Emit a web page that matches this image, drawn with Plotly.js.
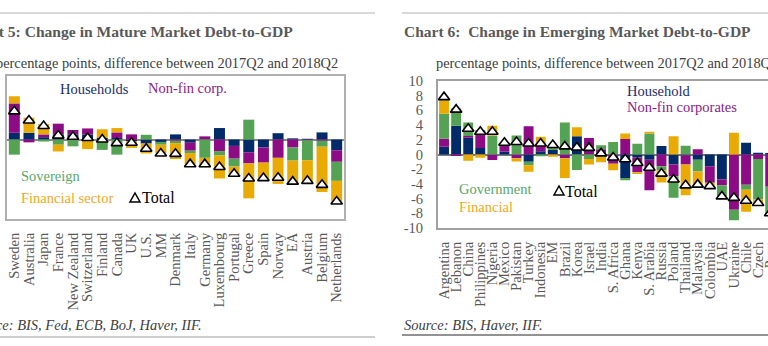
<!DOCTYPE html>
<html>
<head>
<meta charset="utf-8">
<script src="https://cdn.plot.ly/plotly-3.0.1.min.js"></script>
<style>
html,body{margin:0;padding:0;overflow:hidden;background:#fff;width:768px;height:346px;}
#chart{width:810px;height:346px;}
</style>
</head>
<body>
<div id="chart"></div>
<script>
// ---------- Chart 5: Mature markets ----------
const mmCats = ['Sweden','Australia','Japan','France','New Zealand','Switzerland','Finland','Canada','UK','U.S.','MM','Denmark','Italy','Germany','Luxembourg','Portugal','Greece','Spain','Norway','EA','Austria','Belgium','Netherlands'];
const mmHouseholds = [0.85, 0.85, 0.3, 0.65, 0.65, 0.65, 0.2, 0.2, -0.2, -0.5, -0.3, 0.65, -0.4, 0, 1.45, -0.8, -1.6, -1.0, 0.8, 0.15, 0.1, 0.9, -1.35];
const mmNonFin    = [3.7, -0.35, 0.35, 1.35, 0.55, 0.75, 0, 0.7, 0.65, 0, 0, -0.15, -1.0, 0.4, -1.45, -1.6, -1.4, -1.9, -2.3, -1.0, -0.1, -0.15, -1.45];
const mmSovereign = [-1.9, 0, -0.25, -0.65, -0.85, 0, -1.3, -1.9, 0, 0.6, -0.35, -0.3, -0.3, -2.3, -0.55, -1.0, 2.5, 0, 0, -1.65, -2.5, -0.75, -2.4];
const mmFinancial = [0.9, 1.9, 1.3, -0.85, 0, -1.2, 1.1, 0.55, -0.85, -1.25, -1.1, -2.0, -1.4, -1.2, -2.9, -0.9, -4.4, -1.95, -3.3, -2.8, -2.7, -5.7, -2.6];
const mmTotal     = [3.55, 2.4, 1.7, 0.5, 0.35, 0.2, 0.0, -0.45, -0.4, -1.15, -1.75, -1.8, -3.1, -3.1, -3.45, -4.3, -4.9, -4.85, -4.8, -5.3, -5.2, -5.7, -7.8];

// ---------- Chart 6: Emerging markets ----------
const emCats = ['Argentina','Lebanon','China','Philippines','Nigeria','Mexico','Pakistan','Turkey','Indonesia','EM','Brazil','Korea','Israel','India','S. Africa','Ghana','Kenya','S. Arabia','Russia','Poland','Thailand','Malaysia','Colombia','UAE','Ukraine','Chile','Czech','Peru'];
const emHousehold  = [1.05, 3.9, 2.27, 0.9, 0, 0.4, 0, -1.0, 0.45, 0.6, 0, 2.5, 0, 0.2, 0, -3.2, -0.4, -0.7, 1.15, -1.35, -0.1, -0.7, -1.6, -3.4, 0, 1.6, 0.25, 0.2];
const emNonFin     = [1.1, -0.2, 0.25, 2.3, -0.75, 1.2, -0.5, 3.85, 0.9, 0, -0.5, 0, 2.25, 0.5, -1.25, 2.1, -2.0, -4.15, -1.6, -1.6, -1.25, 0.7, -2.25, -0.8, -7.5, -4.1, -0.6, -4.4];
const emGovernment = [3.4, 2.35, 1.85, 0.15, 2.55, 0, 2.6, -0.45, -0.25, 0.55, 4.35, -2.1, -0.6, 0.55, 1.7, -0.3, 1.45, 2.85, -0.55, -2.95, 1.2, -1.6, 0, -1.5, -1.45, -0.7, -5.5, -3.9];
const emFinancial  = [2.3, 0, -0.85, -0.45, 1.35, 0, -0.45, -0.9, 1.05, -0.3, -2.7, 1.2, -0.75, -1.05, -0.9, 0.75, -0.25, 0.25, -1.65, 2.5, -4.2, -2.2, -0.45, 0, 2.95, -3.0, -0.9, 0];
const emTotal      = [7.8, 6.1, 3.5, 3.1, 3.1, 1.6, 1.7, 1.5, 1.5, 1.3, 1.1, 0.95, 0.9, 0.15, -0.4, -0.65, -1.15, -1.8, -2.6, -3.4, -4.2, -4.1, -4.3, -5.7, -5.9, -6.3, -6.6, -8.0];

const yTicks = [-10,-8,-6,-4,-2,0,2,4,6,8,10];

const W = 810, H = 346;
const X = p => p / W;
const Y = p => 1 - p / H;

const C = {hh:'#002a68', nfc:'#8e0b86', gov:'#54a254', fin:'#e9aa04'};
const serif = 'Liberation Serif, Times New Roman, serif';

function bars(cats, vals, color, xa, ya, w) {
  return {type:'bar', x:cats, y:vals, xaxis:xa, yaxis:ya, width:w,
    marker:{color:color, line:{width:0}}, hoverinfo:'skip', showlegend:false};
}
function tot(cats, vals, xa, ya) {
  return {type:'scatter', mode:'markers', x:cats, y:vals, xaxis:xa, yaxis:ya,
    marker:{symbol:'triangle-up', size:10, color:'#ffffff', line:{color:'#000', width:1.6}},
    hoverinfo:'skip', showlegend:false, cliponaxis:false};
}

const data = [
  bars(mmCats, mmHouseholds, C.hh, 'x', 'y', 0.75),
  bars(mmCats, mmNonFin, C.nfc, 'x', 'y', 0.75),
  bars(mmCats, mmSovereign, C.gov, 'x', 'y', 0.75),
  bars(mmCats, mmFinancial, C.fin, 'x', 'y', 0.75),
  tot(mmCats, mmTotal, 'x', 'y'),
  bars(emCats, emHousehold, C.hh, 'x2', 'y2', 0.82),
  bars(emCats, emNonFin, C.nfc, 'x2', 'y2', 0.82),
  bars(emCats, emGovernment, C.gov, 'x2', 'y2', 0.82),
  bars(emCats, emFinancial, C.fin, 'x2', 'y2', 0.82),
  tot(emCats, emTotal, 'x2', 'y2')
];

function ann(text, x, y, color, size, anchor, extra) {
  return Object.assign({text:text, x:X(x), y:Y(y), xref:'paper', yref:'paper',
    xanchor:anchor||'left', yanchor:'middle', showarrow:false,
    font:{family:serif, size:size, color:color}}, extra||{});
}
function tri(cx, cy) {
  const p = (x,y) => X(x).toFixed(5) + ',' + Y(y).toFixed(5);
  return {type:'path', xref:'paper', yref:'paper',
    path:'M' + p(cx-5, cy+4) + ' L' + p(cx+5, cy+4) + ' L' + p(cx, cy-5) + ' Z',
    fillcolor:'#fff', line:{color:'#000', width:1.5}};
}
function hline(x0, x1, y, color, w) {
  return {type:'line', xref:'paper', yref:'paper', x0:X(x0), x1:X(x1), y0:Y(y), y1:Y(y),
    line:{color:color, width:w}};
}

const tickFont = {family:serif, size:14.5, color:'#595959'};

const layout = {
  width:W, height:H,
  margin:{l:0, r:0, t:0, b:0, pad:0},
  paper_bgcolor:'#fff', plot_bgcolor:'#fff',
  barmode:'relative',
  showlegend:false,
  xaxis:{domain:[X(7), X(344)], type:'category', range:[-0.5, 22.5], tickangle:-90,
    tickmode:'array', tickvals:mmCats, ticktext:mmCats,
    tickfont:tickFont, ticks:'', ticklabelstandoff:6,
    showline:true, mirror:true, linecolor:'#b0b0b0', linewidth:2, showgrid:false, zeroline:false, fixedrange:true},
  yaxis:{domain:[Y(219), Y(76)], range:[-10, 8], showticklabels:false, ticks:'', layer:'above traces',
    showline:true, mirror:true, linecolor:'#b0b0b0', linewidth:2, showgrid:false,
    zeroline:true, zerolinecolor:'#8a8a8a', zerolinewidth:2, fixedrange:true},
  xaxis2:{domain:[X(438), X(800.4)], type:'category', range:[-0.5, 29.5], tickangle:-90,
    tickmode:'array', tickvals:emCats, ticktext:emCats,
    tickfont:tickFont, ticks:'', ticklabelstandoff:6, anchor:'y2',
    showline:true, mirror:true, linecolor:'#a0a0a0', linewidth:2, showgrid:false, zeroline:false, fixedrange:true},
  yaxis2:{domain:[Y(228), Y(81)], range:[-10, 10], tickvals:yTicks, ticktext:yTicks.map(String), anchor:'x2',
    tickfont:{family:serif, size:14.5, color:'#595959'}, ticks:'', ticklabelstandoff:10, layer:'above traces',
    showline:true, mirror:true, linecolor:'#a0a0a0', linewidth:2, showgrid:false,
    zeroline:true, zerolinecolor:'#7a7a7a', zerolinewidth:2, fixedrange:true},
  shapes:[
    hline(0, 375, 13, '#d9d9d9', 2),
    hline(402, 800, 13, '#d9d9d9', 2),
    hline(0, 375, 337, '#bfbfbf', 1.5),
    hline(402, 800, 335, '#6e6e6e', 1.5),
    tri(135, 198),
    tri(559, 191)
  ],
  annotations:[
    ann('<b>Chart 5: Change in Mature Market Debt-to-GDP</b>', 295, 32, '#595959', 15.6, 'right'),
    ann('percentage points, difference between 2017Q2 and 2018Q2', 340, 63, '#404040', 14.4, 'right'),
    ann('Households', 58, 89, '#1c2e6b', 14.5),
    ann('Non-fin corp.', 146, 88, '#8b1a89', 14.5),
    ann('Sovereign', 19, 176, '#5aa86a', 14.5),
    ann('Financial sector', 19, 198, '#f0a81c', 14.5),
    ann('Total', 140, 197, '#000000', 16),
    ann('<i>Source: BIS, Fed, ECB, BoJ, Haver, IIF.</i>', 204, 325, '#404040', 14.5, 'right'),

    ann('<b>Chart 6:\u00a0 Change in Emerging Market Debt-to-GDP</b>', 402, 31, '#595959', 15.5, 'left'),
    ann('percentage points, difference between 2017Q2 and 2018Q2', 434, 63, '#404040', 14.4, 'left'),
    ann('Household', 625, 91, '#1c2e6b', 14.5),
    ann('Non-fin corporates', 625, 107, '#8b1a89', 14.5),
    ann('Government', 457, 189, '#5aa86a', 14.5),
    ann('Financial', 457, 207, '#f0a81c', 14.5),
    ann('Total', 563, 191, '#000000', 16),
    ann('<i>Source: BIS, Haver, IIF.</i>', 402, 325, '#404040', 14.5, 'left')
  ]
};

Plotly.newPlot('chart', data, layout, {displayModeBar:false, staticPlot:true, responsive:false});
</script>
</body>
</html>
